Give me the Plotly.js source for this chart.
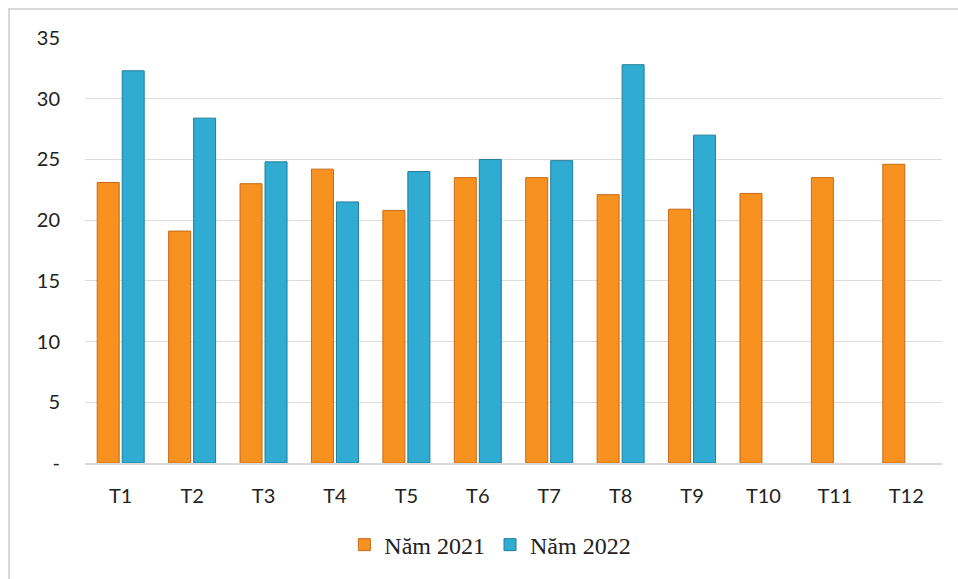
<!DOCTYPE html>
<html>
<head>
<meta charset="utf-8">
<script src="https://cdn.plot.ly/plotly-3.0.1.min.js"></script>
<style>
html,body{margin:0;padding:0;background:#fff;}
#chart{width:958px;height:579px;}
#frame{position:absolute;left:8px;top:8px;width:960px;height:600px;border-left:2px solid #d9d9d9;border-top:2px solid #d9d9d9;pointer-events:none;}
</style>
</head>
<body>
<div id="chart"></div>
<div id="frame"></div>
<script>
const months = ['T1','T2','T3','T4','T5','T6','T7','T8','T9','T10','T11','T12'];
const values2021 = [23.1, 19.1, 23.0, 24.2, 20.8, 23.5, 23.5, 22.1, 20.9, 22.2, 23.5, 24.6];
const values2022 = [32.3, 28.4, 24.8, 21.5, 24.0, 25.0, 24.9, 32.8, 27.0, null, null, null];
const seriesNames = ['Năm 2021', 'Năm 2022'];
const yTickVals = [0, 5, 10, 15, 20, 25, 30, 35];
const yTickText = ['-', '5', '10', '15', '20', '25', '30', '35'];

const traces = [
  {type:'bar', name:seriesNames[0], x:months, y:values2021,
   marker:{color:'#F7911F', line:{color:'#C86A18', width:1}}},
  {type:'bar', name:seriesNames[1], x:months, y:values2022,
   marker:{color:'#30ABD2', line:{color:'#1F7E9C', width:1}}}
];

const layout = {
  width:958, height:579,
  margin:{l:85, r:16, t:38, b:114},
  paper_bgcolor:'#ffffff', plot_bgcolor:'#ffffff',
  barmode:'group', bargap:0.3, bargroupgap:0.12,
  showlegend:true,
  legend:{orientation:'h', x:0.473, xanchor:'center', y:-0.193, yanchor:'middle',
          font:{family:'Liberation Serif, serif', size:24, color:'#222'}, itemwidth:30,
          traceorder:'normal'},
  xaxis:{type:'category', showgrid:false, zeroline:false, showline:true, linecolor:'#d9d9d9', linewidth:1.5,
         ticks:'', ticklabelstandoff:14,
         tickfont:{family:'Lato, sans-serif', size:20, color:'#222'}},
  yaxis:{range:[0,35], tickvals:yTickVals, ticktext:yTickText, showgrid:true, gridcolor:'#dcdcdc', gridwidth:1,
         zeroline:false, showline:false, ticks:'', ticklabelstandoff:24,
         tickfont:{family:'Lato, sans-serif', size:20, color:'#222'}}
};

Plotly.newPlot('chart', traces, layout, {displayModeBar:false, staticPlot:true});
</script>
</body>
</html>
